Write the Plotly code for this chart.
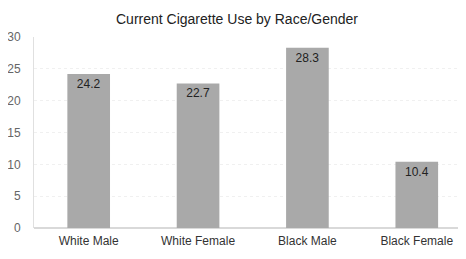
import plotly.graph_objects as go

categories = ["White Male", "White Female", "Black Male", "Black Female"]
values = [24.2, 22.7, 28.3, 10.4]
y_ticks = [0, 5, 10, 15, 20, 25, 30]

font_fam = "Liberation Sans, Arial, sans-serif"

fig = go.Figure(go.Bar(
    x=categories, y=values,
    marker=dict(color="#A9A9A9", line=dict(width=0)),
    width=0.39,
    text=[f"{v:.1f}" for v in values],
    textposition="inside", insidetextanchor="end",
    textfont=dict(family=font_fam, size=12, color="#222222"),
    textangle=0,
))

# page body has an 8px default margin, so the figure is sized to fit the window
fig.update_layout(
    width=458, height=251,
    margin=dict(l=26, r=0, t=29, b=31),
    paper_bgcolor="white", plot_bgcolor="white",
    title=dict(text="Current Cigarette Use by Race/Gender", x=0.5, xanchor="center",
               y=0.955, yanchor="middle",
               font=dict(family=font_fam, size=14, color="#222222")),
    showlegend=False,
    font=dict(family=font_fam),
)
fig.update_xaxes(range=[-0.5, 3.45], showgrid=False, showline=False, ticks="",
                 automargin=False, ticklabelstandoff=4,
                 tickfont=dict(family=font_fam, size=12, color="#333333"))
fig.update_yaxes(range=[0, 30], tickvals=y_ticks, showgrid=True, gridcolor="#F0F0F0",
                 griddash="dot", gridwidth=1, zeroline=True, zerolinecolor="#D9D9D9",
                 showline=True, linecolor="#E0E0E0", linewidth=1, automargin=False,
                 tickfont=dict(family=font_fam, size=12, color="#666666"), ticklabelstandoff=10)

fig.write_html("out.html")
